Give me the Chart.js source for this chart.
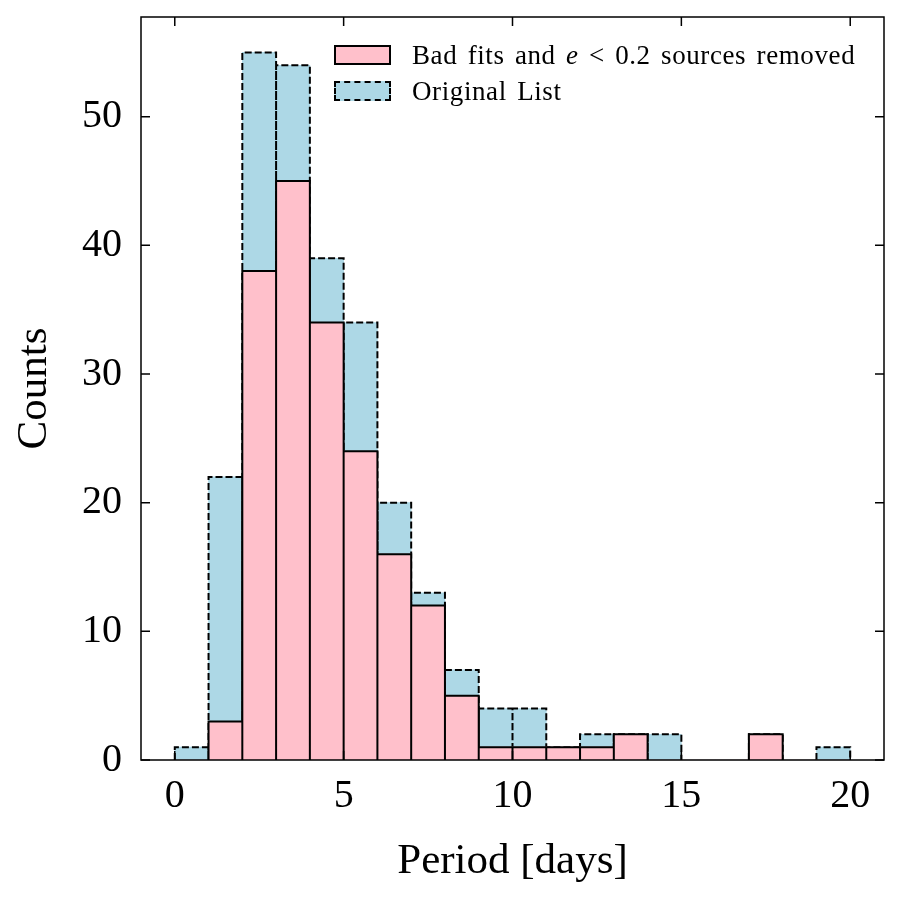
<!DOCTYPE html>
<html><head><meta charset="utf-8">
<script src="https://cdn.jsdelivr.net/npm/chart.js@4.4.1/dist/chart.umd.min.js"></script>
<style>
html,body{margin:0;padding:0;background:#fff;}
#wrap{position:relative;width:901px;height:905px;overflow:hidden;}
canvas{display:block;}
#legend{position:absolute;left:334px;top:45px;font-family:'Liberation Serif',serif;font-size:27px;color:#000;line-height:1;letter-spacing:0.6px;word-spacing:3px;}
.row{position:absolute;left:0;display:flex;align-items:center;white-space:nowrap;height:20px;}
.sw{width:57px;height:20px;box-sizing:border-box;margin-right:21px;flex:none;}
</style></head><body>
<div id="wrap"><canvas id="c" width="901" height="905"></canvas>
<div id="legend">
  <div class="row" style="top:0px"><span class="sw" style="background:#FFC0CB;border:2px solid #000;"></span><span>Bad fits and <i>e</i> &lt; 0.2 sources removed</span></div>
  <div class="row" style="top:36px"><span class="sw" style="background:#ADD8E6;border:2px dashed #000;"></span><span>Original List</span></div>
</div></div>
<script>
const binEdges = [0,1,2,3,4,5,6,7,8,9,10,11,12,13,14,15,16,17,18,19,20];
const originalCounts = [1,22,55,54,39,34,20,13,7,4,4,1,2,2,2,0,0,2,0,1];
const filteredCounts = [0,3,38,45,34,24,16,12,5,1,1,1,1,2,0,0,0,2,0,0];
const xTicks = [0,5,10,15,20];
const yTicks = [0,10,20,30,40,50];

const FONT = "'Liberation Serif', serif";
const centers = binEdges.slice(0,-1).map((e,i)=>(e+binEdges[i+1])/2);
const barData = counts => counts.map((c,i)=>({x:centers[i], y:c}));
function outline(counts){
  const pts=[];
  counts.forEach((c,i)=>{
    if(c>0){
      pts.push({x:binEdges[i],y:0},{x:binEdges[i],y:c},{x:binEdges[i+1],y:c},{x:binEdges[i+1],y:0},{x:binEdges[i+1],y:null});
    }
  });
  return pts;
}

const framePlugin = {
  id:'frame',
  afterDatasetsDraw(chart){
    const {ctx, chartArea:a, scales:{x,y}} = chart;
    ctx.save();
    ctx.strokeStyle='#000'; ctx.lineWidth=1.5;
    ctx.beginPath();
    const L=9;
    xTicks.forEach(v=>{const p=x.getPixelForValue(v); ctx.moveTo(p,a.bottom); ctx.lineTo(p,a.bottom-L); ctx.moveTo(p,a.top); ctx.lineTo(p,a.top+L);});
    yTicks.forEach(v=>{const p=y.getPixelForValue(v); ctx.moveTo(a.left,p); ctx.lineTo(a.left+L,p); ctx.moveTo(a.right,p); ctx.lineTo(a.right-L,p);});
    ctx.stroke();
    ctx.strokeRect(a.left,a.top,a.right-a.left,a.bottom-a.top);
    ctx.restore();
  }
};

new Chart(document.getElementById('c'), {
  type:'bar',
  data:{datasets:[
    {type:'line', data:outline(filteredCounts), borderColor:'#000', borderWidth:2, pointRadius:0, fill:false, tension:0, order:0},
    {type:'bar', data:barData(filteredCounts), backgroundColor:'#FFC0CB', borderWidth:0, barPercentage:1, categoryPercentage:1, grouped:false, order:1},
    {type:'line', data:outline(originalCounts), borderColor:'#000', borderWidth:2, borderDash:[7,3], pointRadius:0, fill:false, tension:0, order:2},
    {type:'bar', data:barData(originalCounts), backgroundColor:'#ADD8E6', borderWidth:0, barPercentage:1, categoryPercentage:1, grouped:false, order:3}
  ]},
  options:{
    responsive:false, animation:false, devicePixelRatio:1,
    layout:{padding:{top:17,right:17,left:0,bottom:0}},
    plugins:{legend:{display:false}, tooltip:{enabled:false}},
    scales:{
      x:{type:'linear', min:-1, max:21, offset:false,
        grid:{display:false, drawTicks:false}, border:{display:false},
        afterBuildTicks:s=>{s.ticks = xTicks.map(v=>({value:v}));},
        afterFit:s=>{s.height=145; s.paddingLeft=0; s.paddingRight=0;},
        ticks:{padding:12, color:'#000', autoSkip:false, maxRotation:0, font:{family:FONT, size:40}},
        title:{display:true, text:'Period [days]', color:'#000', font:{family:FONT, size:43}, padding:{top:0,bottom:17}}
      },
      y:{type:'linear', min:0, max:57.75,
        grid:{display:false, drawTicks:false}, border:{display:false},
        afterBuildTicks:s=>{s.ticks = yTicks.map(v=>({value:v}));},
        afterFit:s=>{s.width=141; s.paddingTop=0; s.paddingBottom=0;},
        ticks:{padding:19, color:'#000', autoSkip:false, font:{family:FONT, size:40}},
        title:{display:true, text:'Counts', color:'#000', font:{family:FONT, size:43}, padding:{top:9,bottom:0}}
      }
    }
  },
  plugins:[framePlugin]
});
</script>
</body></html>
